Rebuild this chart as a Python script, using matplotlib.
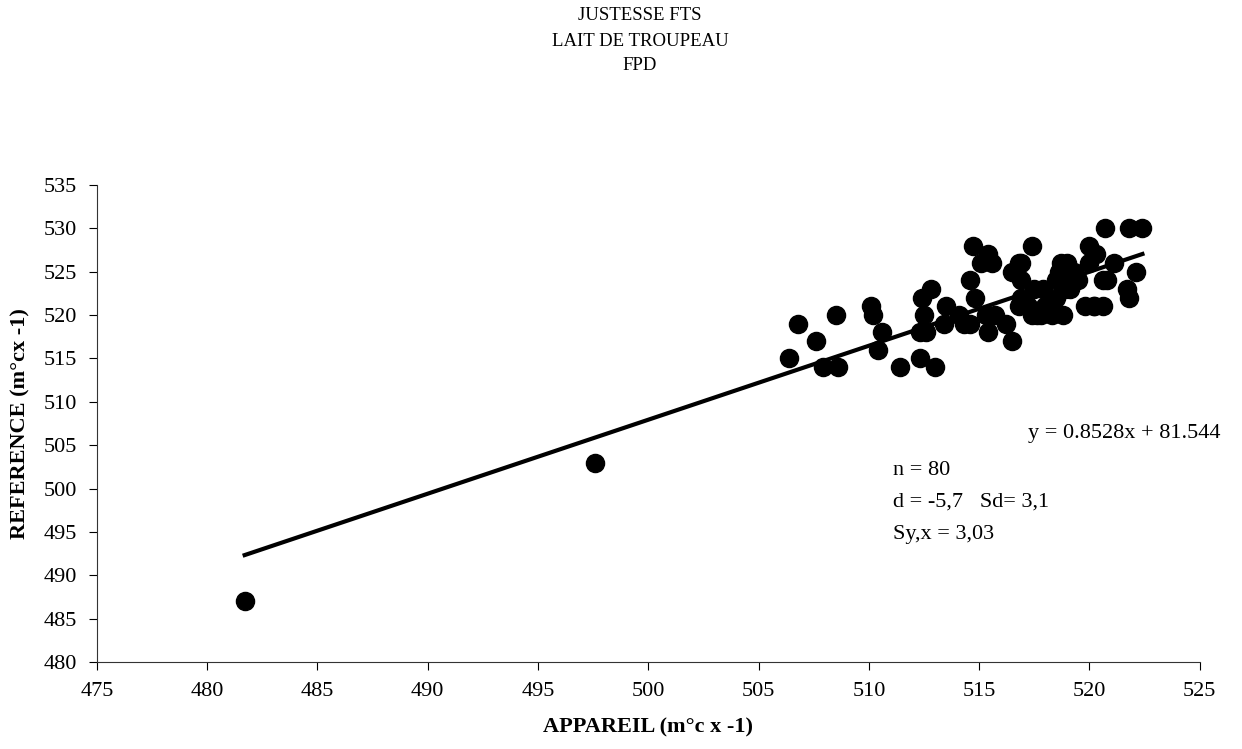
import numpy as np
import matplotlib.pyplot as plt

plt.rcParams['font.family'] = ['Liberation Serif', 'DejaVu Serif']

# appareil (x) / reference (y) pairs
appareil = [481.7, 497.6,
            506.4, 506.8, 507.6, 507.9, 508.5, 508.6,
            510.1, 510.2, 510.6, 510.4, 511.4, 512.3, 513.0, 512.4, 512.8, 512.5,
            512.3, 512.6, 513.5, 513.4, 514.1, 514.3, 514.6, 514.6, 514.8, 514.7,
            515.4, 515.1, 515.6, 515.4, 515.7, 515.4, 516.2, 516.5, 516.8, 516.5,
            516.9, 516.9, 516.8, 517.4, 517.2, 517.4, 517.8, 517.5, 517.9, 518.3,
            518.8, 518.2, 518.5, 518.7, 519.0, 518.5, 518.8, 518.9, 519.3, 519.5,
            519.8, 520.2, 520.6, 520.7, 521.8, 522.4, 520.0, 520.3, 520.0, 521.1,
            520.6, 520.8, 522.1, 521.7, 521.8,
            518.6, 515.3, 517.6, 516.9, 519.1, 520.2, 518.0]
reference = [487, 503,
             515, 519, 517, 514, 520, 514,
             521, 520, 518, 516, 514, 515, 514, 522, 523, 520,
             518, 518, 521, 519, 520, 519, 519, 524, 522, 528,
             527, 526, 526, 520, 520, 518, 519, 517, 526, 525,
             524, 522, 521, 528, 521, 520, 520, 523, 523, 520,
             520, 521, 522, 526, 526, 524, 524, 523, 525, 524,
             521, 521, 521, 530, 530, 530, 528, 527, 526, 526,
             524, 524, 525, 523, 522,
             525, 520, 520, 526, 523, 521, 521]

slope = 0.8528
intercept = 81.544

fig = plt.figure(figsize=(12.42, 7.49), dpi=100)
ax = fig.add_axes([0.078, 0.116, 0.888, 0.637])

ax.scatter(appareil, reference, s=170, color='black', zorder=3)
xl = np.array([min(appareil), max(appareil)])
ax.plot(xl, slope * xl + intercept, color='black', lw=3, zorder=2)

ax.set_xlim(475, 525)
ax.set_ylim(480, 535)
ax.set_xticks(np.arange(475, 526, 5))
ax.set_yticks(np.arange(480, 536, 5))
ax.tick_params(labelsize=16, direction='out', length=6, width=0.8, pad=8)
for s in ['top', 'right']:
    ax.spines[s].set_visible(False)
for s in ['left', 'bottom']:
    ax.spines[s].set_linewidth(0.8)
    ax.spines[s].set_color('#333333')

ax.set_xlabel('APPAREIL (m°c x -1)', fontsize=16, fontweight='bold', labelpad=12)
ax.set_ylabel('REFERENCE (m°cx -1)', fontsize=16, fontweight='bold', labelpad=10)

fig.text(640 / 1242, 1 - 16 / 749, 'JUSTESSE FTS', ha='center', va='center', fontsize=13.5)
fig.text(640 / 1242, 1 - 41 / 749, 'LAIT DE TROUPEAU', ha='center', va='center', fontsize=13.5)
fig.text(640 / 1242, 1 - 66 / 749, 'FPD', ha='center', va='center', fontsize=13.5)

ax.text(517.2, 506.3, 'y = 0.8528x + 81.544', fontsize=16, va='center')
ax.text(511.1, 502.1, 'n = 80', fontsize=16, va='center')
ax.text(511.1, 498.4, 'd = -5,7   Sd= 3,1', fontsize=16, va='center')
ax.text(511.1, 494.7, 'Sy,x = 3,03', fontsize=16, va='center')

fig.savefig('out.png', dpi=100)
